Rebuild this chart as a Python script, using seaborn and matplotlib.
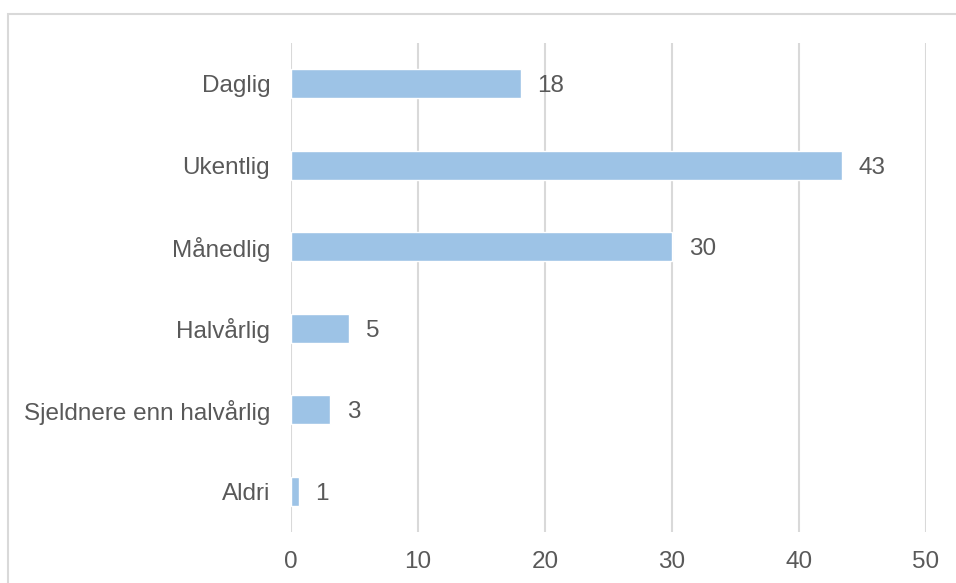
import matplotlib
matplotlib.use("Agg")
import matplotlib.pyplot as plt
import seaborn as sns
import pandas as pd
from matplotlib.patches import Rectangle

categories = ["Daglig", "Ukentlig", "Månedlig", "Halvårlig",
              "Sjeldnere enn halvårlig", "Aldri"]
values = [18.1, 43.4, 30.0, 4.6, 3.1, 0.6]
x_ticks = [0, 10, 20, 30, 40, 50]

sns.set_theme(style="white")
plt.rcParams["font.family"] = ["Liberation Sans", "DejaVu Sans"]

text_color = "#595959"
grid_color = "#d9d9d9"
bar_color = "#9dc3e6"
font_size = 17.5

df = pd.DataFrame({"kategori": categories, "verdi": values})

fig = plt.figure(figsize=(9.56, 5.83), dpi=100)
ax = fig.add_axes([291 / 956, (583 - 532) / 583, (926 - 291) / 956, (532 - 43) / 583])

# outer chart frame (runs past the right and bottom edges)
fig.patches.append(Rectangle((8 / 956, -1), 2, 1 + (583 - 14) / 583,
                             transform=fig.transFigure, fill=False,
                             edgecolor=grid_color, linewidth=1.5))

sns.barplot(data=df, x="verdi", y="kategori", orient="h", color=bar_color,
            width=0.36, ax=ax, saturation=1, zorder=3)

labels = ax.bar_label(ax.containers[0], fmt="{:.0f}", padding=12,
                      fontsize=font_size, color=text_color)
for t in labels:
    t.set_va("center_baseline")

ax.set_xlim(0, 50)
ax.set_xticks(x_ticks)
ax.set_xlabel("")
ax.set_ylabel("")
ax.xaxis.grid(True, color=grid_color, linewidth=1.5, zorder=0)
ax.yaxis.grid(False)
for s in ax.spines.values():
    s.set_visible(False)
ax.tick_params(axis="y", length=0, pad=15, labelsize=font_size, labelcolor=text_color)
ax.tick_params(axis="x", length=0, pad=14, labelsize=font_size, labelcolor=text_color)

fig.savefig("out.png", dpi=100)
